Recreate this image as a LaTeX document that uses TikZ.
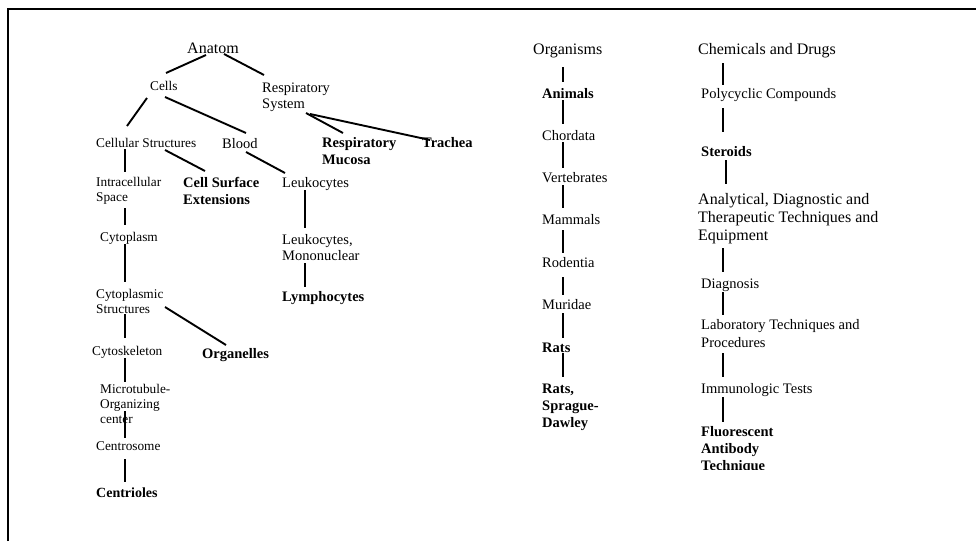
\documentclass[tikz,border=0pt]{standalone}
\usepackage{fontspec}
\setmainfont{Liberation Serif}
\newcommand{\mlines}[1]{\begin{tabular}[t]{@{}l@{}}#1\end{tabular}}
\begin{document}
\begin{tikzpicture}[x=1pt,y=-1pt,
  lbl/.style={inner sep=0pt, anchor=base west, font=\fontsize{14.5}{17}\selectfont},
  lblsm/.style={inner sep=0pt, anchor=base west, font=\fontsize{13.3}{15}\selectfont},
  lblbig/.style={inner sep=0pt, anchor=base west, font=\fontsize{16}{18}\selectfont},
  lblb/.style={inner sep=0pt, anchor=base west, font=\fontsize{14.5}{17}\selectfont\bfseries},
  conn/.style={line width=1.9pt},
  frame/.style={line width=1.3pt}]
\useasboundingbox (0,0) rectangle (976,541);
\draw[frame] (8,541) -- (8,9) -- (976,9);

% Anatomy tree
\node[lblbig] (anat) at (187,53) {Anatom};
\node[lblsm] (cells) at (150,90) {Cells};
\node[lbl, font=\fontsize{14.5}{16}\selectfont] (resp) at (262,92) {\mlines{Respiratory\\System}};
\node[lblsm] (cellstr) at (96,147) {Cellular Structures};
\node[lbl] (blood) at (222,148) {Blood};
\node[lblb, font=\fontsize{14.5}{17.5}\selectfont\bfseries] (mucosa) at (322,147) {\mlines{Respiratory\\Mucosa}};
\node[lblb] (trachea) at (422,147) {Trachea};
\node[lblsm] (intra) at (96,186.5) {\mlines{Intracellular\\Space}};
\node[lblb] (surf) at (183,187) {\mlines{Cell Surface\\Extensions}};
\node[lbl] (leuk) at (282,187) {Leukocytes};
\node[lblsm] (cyto) at (100,241.5) {Cytoplasm};
\node[lbl, font=\fontsize{14.5}{16.5}\selectfont] (leukmono) at (282,244) {\mlines{Leukocytes,\\Mononuclear}};
\node[lblb] (lympho) at (282,301) {Lymphocytes};
\node[lblsm] (cytostr) at (96,298.5) {\mlines{Cytoplasmic\\Structures}};
\node[lblb] (organ) at (202,358) {Organelles};
\node[lblsm] (cytosk) at (92,355.5) {Cytoskeleton};
\node[lblsm] (micro) at (100,393.5) {\mlines{Microtubule-\\Organizing\\center}};
\node[lblsm] (centrosome) at (96,450.5) {Centrosome};
\node[lblb, font=\fontsize{14}{16}\selectfont\bfseries] (centrioles) at (96,497) {Centrioles};

\draw[conn] ([shift={(19,2)}]anat.base west) -- ([shift={(16,-17)}]cells.base west);
\draw[conn] ([shift={(37,1)}]anat.base west) -- ([shift={(2,-17)}]resp.base west);
\draw[conn] ([shift={(-3,8)}]cells.base west) -- ([shift={(31,-21)}]cellstr.base west);
\draw[conn] ([shift={(15,7)}]cells.base west) -- ([shift={(24,-15)}]blood.base west);
\draw[conn] ([shift={(44,21)}]resp.base west) -- ([shift={(21,-14)}]mucosa.base west);
\draw[conn] ([shift={(48,22)}]resp.base west) -- ([shift={(8,-7)}]trachea.base west);
\draw[conn] ([shift={(29,2)}]cellstr.base west) -- ([shift={(29,-14.5)}]intra.base west);
\draw[conn] ([shift={(69,3)}]cellstr.base west) -- ([shift={(22,-16)}]surf.base west);
\draw[conn] ([shift={(24,4)}]blood.base west) -- ([shift={(3,-14)}]leuk.base west);
\draw[conn] ([shift={(29,21.5)}]intra.base west) -- ([shift={(25,-16.5)}]cyto.base west);
\draw[conn] ([shift={(23,3)}]leuk.base west) -- ([shift={(23,-16)}]leukmono.base west);
\draw[conn] ([shift={(25,2.5)}]cyto.base west) -- ([shift={(29,-16.5)}]cytostr.base west);
\draw[conn] ([shift={(23,19)}]leukmono.base west) -- ([shift={(23,-14)}]lympho.base west);
\draw[conn] ([shift={(29,15.5)}]cytostr.base west) -- ([shift={(33,-17.5)}]cytosk.base west);
\draw[conn] ([shift={(69,8.5)}]cytostr.base west) -- ([shift={(24,-13)}]organ.base west);
\draw[conn] ([shift={(33,2.5)}]cytosk.base west) -- ([shift={(25,-11.5)}]micro.base west);
\draw[conn] ([shift={(25,17.5)}]micro.base west) -- ([shift={(29,-12.5)}]centrosome.base west);
\draw[conn] ([shift={(29,8.5)}]centrosome.base west) -- ([shift={(29,-15)}]centrioles.base west);

% Organisms
\node[lblbig] (orgs) at (533,54) {Organisms};
\node[lblb] (animals) at (542,98) {Animals};
\node[lbl] (chordata) at (542,140) {Chordata};
\node[lbl] (vert) at (542,182) {Vertebrates};
\node[lbl] (mammals) at (542,224) {Mammals};
\node[lbl] (rodentia) at (542,267) {Rodentia};
\node[lbl] (muridae) at (542,309) {Muridae};
\node[lblb] (rats) at (542,352) {Rats};
\node[lblb] (rsd) at (542,393) {\mlines{Rats,\\Sprague-\\Dawley}};

\draw[conn] ([shift={(30,13)}]orgs.base west) -- ([shift={(21,-16)}]animals.base west);
\draw[conn] ([shift={(21,2)}]animals.base west) -- ([shift={(21,-16)}]chordata.base west);
\draw[conn] ([shift={(21,2)}]chordata.base west) -- ([shift={(21,-14)}]vert.base west);
\draw[conn] ([shift={(21,3)}]vert.base west) -- ([shift={(21,-16)}]mammals.base west);
\draw[conn] ([shift={(21,6)}]mammals.base west) -- ([shift={(21,-14)}]rodentia.base west);
\draw[conn] ([shift={(21,10)}]rodentia.base west) -- ([shift={(21,-14)}]muridae.base west);
\draw[conn] ([shift={(21,4)}]muridae.base west) -- ([shift={(21,-14)}]rats.base west);
\draw[conn] ([shift={(21,1)}]rats.base west) -- ([shift={(21,-16)}]rsd.base west);

% Chemicals and Drugs
\node[lblbig] (chem) at (698,54) {Chemicals and Drugs};
\node[lbl] (poly) at (701,98) {Polycyclic Compounds};
\node[lblb] (steroids) at (701,156) {Steroids};
\node[lblbig] (anal) at (698,204) {\mlines{Analytical, Diagnostic and\\Therapeutic Techniques and\\Equipment}};
\node[lbl] (diag) at (701,288) {Diagnosis};
\node[lbl, font=\fontsize{14.5}{18}\selectfont] (lab) at (701,329) {\mlines{Laboratory Techniques and\\Procedures}};
\node[lbl] (immuno) at (701,393) {Immunologic Tests};
\begin{scope}
\clip (690,415) rectangle (900,469);
\node[lblb] (fluor) at (701,436) {\mlines{Fluorescent\\Antibody\\Technique}};
\end{scope}

\draw[conn] ([shift={(25,9)}]chem.base west) -- ([shift={(22,-13)}]poly.base west);
\draw[conn] ([shift={(22,10)}]poly.base west) -- ([shift={(22,-24)}]steroids.base west);
\draw[conn] ([shift={(25,4)}]steroids.base west) -- ([shift={(28,-20)}]anal.base west);
\draw[conn] ([shift={(25,44)}]anal.base west) -- ([shift={(22,-16)}]diag.base west);
\draw[conn] ([shift={(22,4)}]diag.base west) -- ([shift={(22,-14)}]lab.base west);
\draw[conn] ([shift={(22,24)}]lab.base west) -- ([shift={(22,-16)}]immuno.base west);
\draw[conn] ([shift={(22,4)}]immuno.base west) -- ([shift={(22,-14)}]fluor.base west);
\end{tikzpicture}
\end{document}
